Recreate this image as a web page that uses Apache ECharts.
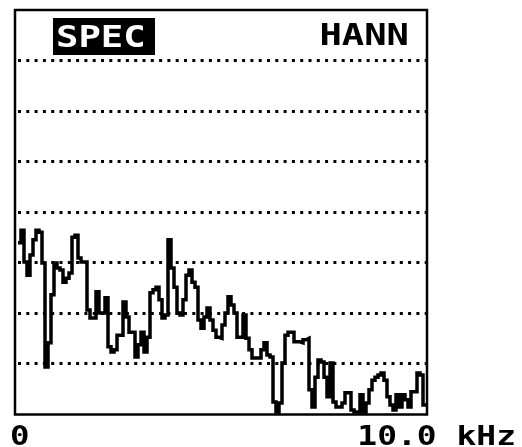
<!DOCTYPE html>
<html>
<head>
<meta charset="utf-8">
<script src="https://cdn.jsdelivr.net/npm/echarts@6/dist/echarts.min.js"></script>
<style>
  html, body { margin: 0; padding: 0; background: #fff; }
  #chart { width: 522px; height: 447px; }
</style>
</head>
<body>
<div id="chart"></div>
<script>
// Analyzer screen: magnitude spectrum, 0 - 10 kHz, 8 vertical divisions (10 units each)
const modeLabel = 'SPEC';
const windowLabel = 'HANN';
const tickLabels = ['0', '10.0 kHz'];
const freqMaxKHz = 10;

// Level per frequency bin, in division units x10 (0 = bottom, 80 = top)
const spectrum = [
  33.9, 36.4, 30.1, 27.5, 31.5, 34.5, 36.4, 36.0, 29.9, 9.3,
  14.1, 23.6, 29.9, 28.9, 28.5, 26.1, 26.9, 27.9, 35.0, 35.4,
  30.9, 30.1, 30.1, 20.6, 19.0, 19.0, 24.2, 20.0, 20.0, 23.0,
  13.3, 12.3, 12.7, 15.6, 15.6, 22.2, 19.2, 16.2, 16.2, 11.3,
  13.7, 16.2, 12.3, 15.2, 24.0, 24.6, 25.1, 22.6, 19.0, 19.6,
  34.5, 28.9, 25.1, 20.0, 19.6, 22.6, 27.5, 28.5, 26.1, 25.1,
  18.6, 17.0, 19.2, 21.0, 18.6, 16.6, 15.2, 15.0, 17.6, 20.0,
  23.2, 21.6, 20.0, 15.2, 15.2, 19.6, 15.0, 12.7, 11.1, 11.1,
  11.1, 12.7, 14.1, 11.7, 11.3, 2.4, 0.4, 2.2, 10.1, 15.6,
  16.2, 16.2, 14.3, 14.3, 14.1, 14.7, 15.0, 4.8, 1.4, 7.3,
  10.7, 10.3, 7.3, 3.4, 10.1, 2.4, 1.4, 1.4, 2.2, 4.2,
  4.2, 0.8, 0.4, 0.4, 3.8, 0.4, 2.2, 4.8, 6.7, 7.3,
  7.7, 8.1, 6.7, 3.4, 1.8, 0.8, 3.8, 1.4, 3.8, 2.8,
  1.4, 4.4, 4.4, 8.1, 7.7, 1.8
];

// Each bin holds its level from its left edge to the next bin's edge
const binWidth = freqMaxKHz / spectrum.length;
const traceData = spectrum.map((v, i) => [i * binWidth, v]);
traceData.push([freqMaxKHz, spectrum[spectrum.length - 1]]);

const lcdFont = '"DejaVu Sans Mono", monospace';

const chart = echarts.init(document.getElementById('chart'), null, { renderer: 'canvas' });
chart.setOption({
  animation: false,
  backgroundColor: '#ffffff',
  grid: { left: 18, top: 10, width: 408, height: 404, show: false },
  xAxis: {
    type: 'value', min: 0, max: freqMaxKHz, interval: freqMaxKHz,
    axisLine: { show: false }, axisTick: { show: false },
    axisLabel: { show: false }, splitLine: { show: false }
  },
  yAxis: {
    type: 'value', min: 0, max: 80, interval: 10,
    axisLine: { show: false }, axisTick: { show: false }, axisLabel: { show: false },
    splitLine: {
      show: true, showMinLine: false, showMaxLine: false,
      lineStyle: { color: '#000', width: 3, type: [3, 5.3], cap: 'butt' }
    }
  },
  series: [{
    type: 'line',
    step: 'end',
    data: traceData,
    symbol: 'none',
    lineStyle: { color: '#000', width: 3.5, join: 'miter' },
    z: 5
  }],
  graphic: [
    // screen frame
    { type: 'rect', shape: { x: 15, y: 10, width: 412, height: 404.5 },
      style: { fill: 'none', stroke: '#000', lineWidth: 2.5 }, z: 12 },
    { type: 'rect', shape: { x: 53, y: 18, width: 102, height: 37 }, style: { fill: '#000' }, z: 10 },
    { type: 'text', x: 56, y: 38.5, scaleX: 1.2, z: 11,
      style: { text: modeLabel, font: 'bold 31px ' + lcdFont, fill: '#fff', textAlign: 'left', textVerticalAlign: 'middle' } },
    { type: 'text', x: 409, y: 37, scaleX: 1.2, z: 11,
      style: { text: windowLabel, font: 'bold 31px ' + lcdFont, fill: '#000', textAlign: 'right', textVerticalAlign: 'middle' } },
    { type: 'text', x: 10, y: 438, scaleX: 1.2, z: 11,
      style: { text: tickLabels[0], font: 'bold 27px ' + lcdFont, fill: '#000', textAlign: 'left', textVerticalAlign: 'middle' } },
    { type: 'text', x: 516, y: 438, scaleX: 1.22, z: 11,
      style: { text: tickLabels[1], font: 'bold 27px ' + lcdFont, fill: '#000', textAlign: 'right', textVerticalAlign: 'middle' } }
  ]
});
</script>
</body>
</html>
